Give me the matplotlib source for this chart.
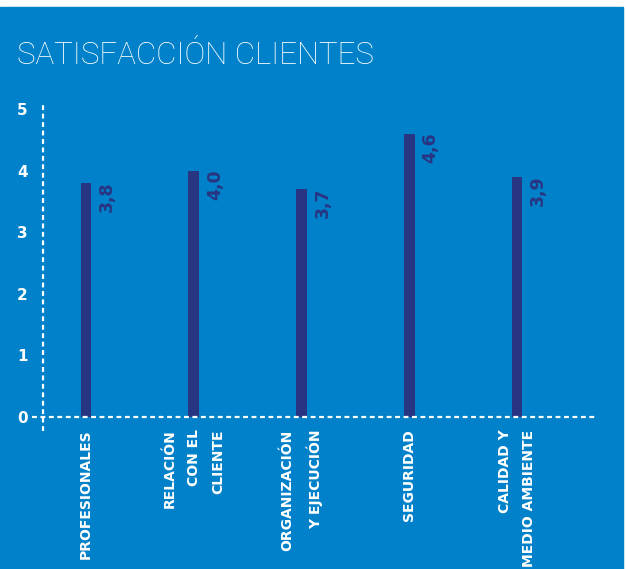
import matplotlib
matplotlib.use("Agg")
import matplotlib.pyplot as plt
from matplotlib.lines import Line2D

# data
categories = ["PROFESIONALES", "RELACIÓN\nCON EL\nCLIENTE", "ORGANIZACIÓN\nY EJECUCIÓN",
              "SEGURIDAD", "CALIDAD Y\nMEDIO AMBIENTE"]
scores = [3.8, 4.0, 3.7, 4.6, 3.9]
score_labels = ["3,8", "4,0", "3,7", "4,6", "3,9"]
yticks = [0, 1, 2, 3, 4, 5]

BLUE = "#0081c9"
NAVY = "#283583"

fig = plt.figure(figsize=(6.26, 5.69), dpi=100, facecolor="white")
# blue panel (white strip on top and right like the source)
fig.patches.append(plt.Rectangle((0, 0), 623 / 626, (569 - 7) / 569,
                                 transform=fig.transFigure, color=BLUE, zorder=-1))

ax = fig.add_axes([43 / 626, (569 - 417) / 569, (596 - 43) / 626, 312 / 569])
ax.set_facecolor("none")
x = list(range(len(categories)))
ax.bar(x, scores, width=0.1, color=NAVY, zorder=2)
ax.set_xlim(-0.399, 4.733)
ax.set_ylim(0, 5.07)

for s in ax.spines.values():
    s.set_visible(False)

dash = dict(color="white", lw=1.6, ls=(0, (2.2, 1.6)), clip_on=False, zorder=3)
ax.add_line(Line2D([-0.50, 4.733], [0, 0], **dash))
ax.add_line(Line2D([-0.399, -0.399], [-0.23, 5.07], **dash))

ax.set_yticks(yticks)
ax.set_yticklabels([str(t) for t in yticks], color="white", fontsize=11,
                   fontweight="bold", family="DejaVu Sans")
ax.tick_params(axis="y", length=0, pad=11)

ax.set_xticks(x)
ax.set_xticklabels(categories, rotation=90, color="white", fontsize=10,
                   fontweight="bold", family="DejaVu Sans", multialignment="right",
                   linespacing=1.95)
ax.tick_params(axis="x", length=0, pad=9)

for xi, v, lab in zip(x, scores, score_labels):
    ax.text(xi + 0.195, v + 0.03, lab, rotation=90, ha="center", va="top",
            color=NAVY, fontsize=12.5, fontweight="bold", family="DejaVu Sans")

fig.text(17 / 626, (569 - 64) / 569, "SATISFACCIÓN CLIENTES", color="white",
         fontsize=22.5, family="Roboto", fontweight=100,
         va="baseline", ha="left")

fig.savefig("out.png", dpi=100, facecolor="white")
